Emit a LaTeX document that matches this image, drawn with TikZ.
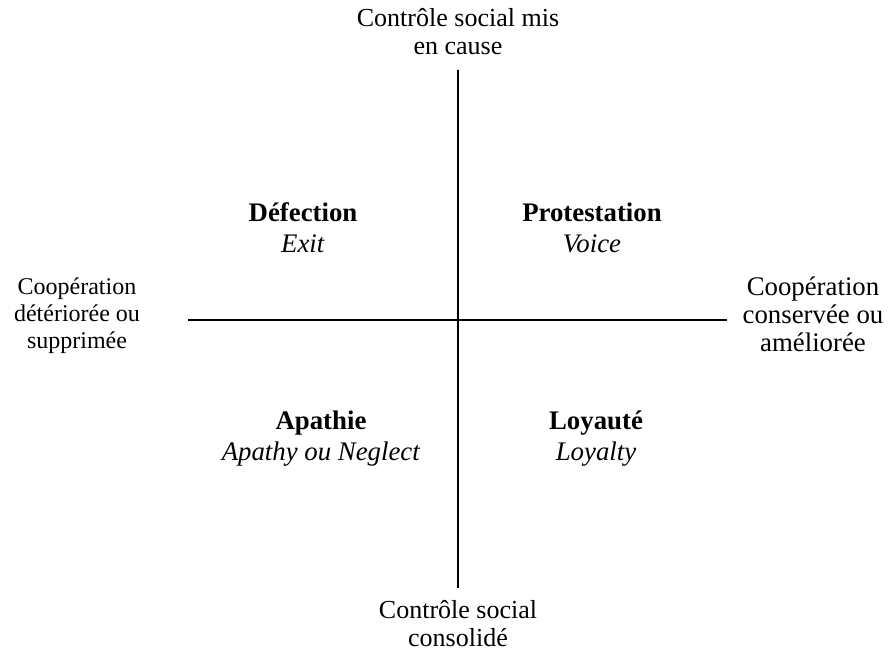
\documentclass[tikz,border=0pt]{standalone}
\usepackage{fontspec}
\setmainfont{Liberation Serif}
\begin{document}
\begin{tikzpicture}[x=0.5pt,y=-0.5pt,
  axis/.style={line width=1pt},
  lbl/.style={align=center,inner sep=0pt},
  quad/.style={align=center,inner sep=0pt,font=\fontsize{13.4}{15.5}\selectfont}]
\useasboundingbox (0,0) rectangle (893,657);
\coordinate (top) at (458,70);
\coordinate (bot) at (458,588);
\coordinate (lft) at (188,320);
\coordinate (rgt) at (727,320);
\draw[axis] (top) -- (bot);
\draw[axis] (lft) -- (rgt);
\node[lbl,font=\fontsize{13}{14}\selectfont] (ttop) at (458,32) {Contrôle social mis\\en cause};
\node[lbl,font=\fontsize{13}{14}\selectfont] (tbot) at (458,624) {Contrôle social\\consolidé};
\node[lbl,font=\fontsize{12}{13.5}\selectfont] (tlft) at (77,316) {Coopération\\détériorée ou\\supprimée};
\node[lbl,font=\fontsize{13.4}{14}\selectfont] (trgt) at (813,314) {Coopération\\conservée ou\\améliorée};
\node[quad] (q1) at (303,228) {\textbf{Défection}\\\textit{Exit}};
\node[quad] (q2) at (592,228) {\textbf{Protestation}\\\textit{Voice}};
\node[quad] (q3) at (321,439) {\textbf{Apathie}\\\textit{Apathy ou Neglect}};
\node[quad] (q4) at (596,439) {\textbf{Loyauté}\\\textit{Loyalty}};
\end{tikzpicture}
\end{document}
